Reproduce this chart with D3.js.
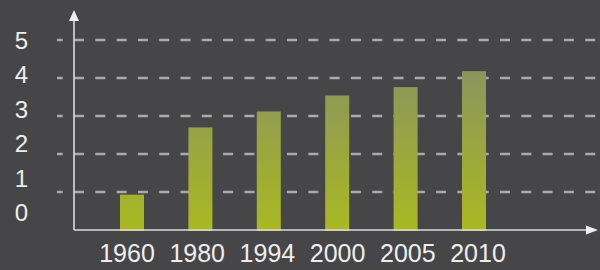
<!DOCTYPE html>
<html>
<head>
<meta charset="utf-8">
<script src="https://cdn.jsdelivr.net/npm/d3@7"></script>
<style>
  body { margin: 0; background: #464648; }
  svg { display: block; }
</style>
</head>
<body>
<div id="chart"></div>
<script>
// data
var years = ['1960', '1980', '1994', '2000', '2005', '2010'];
var values = [0.93, 2.7, 3.12, 3.54, 3.76, 4.18];
var yTicks = [0, 1, 2, 3, 4, 5];

var def = {
    width: 600,
    height: 270,
    left: 74,
    right: 598,
    base: 230,
    top: 40,
    barW: 24
};

var svg = d3.select('#chart').append('svg')
    .attr('width', def.width)
    .attr('height', def.height);

svg.append('rect')
    .attr('width', def.width)
    .attr('height', def.height)
    .attr('fill', '#464648');

// scales
var x = d3.scalePoint()
    .domain(years)
    .range([132, 474]);

// year labels are spread a little wider than the bars
var xLab = d3.scalePoint()
    .domain(years)
    .range([127, 478]);

var y = d3.scaleLinear()
    .domain([0, 5])
    .range([def.base, def.top]);

// labels on the left sit a bit off the grid lines in the original
var yLab = d3.scaleLinear()
    .domain([0, 5])
    .range([221, 49]);

// gradient for the bars
var grad = svg.append('defs').append('linearGradient')
    .attr('id', 'barGrad')
    .attr('gradientUnits', 'userSpaceOnUse')
    .attr('x1', 0).attr('x2', 0)
    .attr('y1', y(4.2)).attr('y2', def.base);
grad.append('stop').attr('offset', '0%').attr('stop-color', '#8a955e');
grad.append('stop').attr('offset', '100%').attr('stop-color', '#a9b921');

// grid lines
svg.append('g')
    .selectAll('line')
    .data(yTicks.filter(d => d > 0))
    .enter().append('line')
    .attr('x1', 57)
    .attr('x2', 597)
    .attr('y1', d => y(d))
    .attr('y2', d => y(d))
    .attr('stroke', '#aaaaaa')
    .attr('stroke-width', 2.5)
    .attr('stroke-dasharray', '10,11.3')
    .attr('stroke-dashoffset', 4.3);

// bars
svg.append('g')
    .selectAll('rect')
    .data(values)
    .enter().append('rect')
    .attr('x', (d, i) => x(years[i]) - def.barW / 2)
    .attr('width', def.barW)
    .attr('y', d => y(d))
    .attr('height', d => def.base + 1 - y(d))
    .attr('fill', 'url(#barGrad)');

// axes with arrows
var axisCol = '#dddddd';
svg.append('line')
    .attr('x1', def.left).attr('x2', def.left)
    .attr('y1', def.base).attr('y2', 18)
    .attr('stroke', axisCol).attr('stroke-width', 1.6);
svg.append('line')
    .attr('x1', def.left).attr('x2', 590)
    .attr('y1', def.base).attr('y2', def.base)
    .attr('stroke', axisCol).attr('stroke-width', 1.6);
svg.append('path')
    .attr('d', 'M' + def.left + ',10 L' + (def.left - 5) + ',21 L' + (def.left + 5) + ',21 Z')
    .attr('fill', '#eeeeee');
svg.append('path')
    .attr('d', 'M' + def.right + ',' + def.base + ' L586,' + (def.base - 4.5) + ' L586,' + (def.base + 4.5) + ' Z')
    .attr('fill', '#eeeeee');

// y labels
svg.append('g')
    .selectAll('text')
    .data(yTicks)
    .enter().append('text')
    .attr('x', 21.5)
    .attr('y', d => yLab(d))
    .attr('text-anchor', 'middle')
    .attr('font-family', 'Liberation Sans, Arial, sans-serif')
    .attr('font-size', '24px')
    .attr('fill', '#eeeeee')
    .text(d => d);

// x labels
svg.append('g')
    .selectAll('text')
    .data(years)
    .enter().append('text')
    .attr('x', d => xLab(d))
    .attr('y', 262)
    .attr('text-anchor', 'middle')
    .attr('font-family', 'Liberation Sans, Arial, sans-serif')
    .attr('font-size', '25px')
    .attr('fill', '#eeeeee')
    .text(d => d);
</script>
</body>
</html>
